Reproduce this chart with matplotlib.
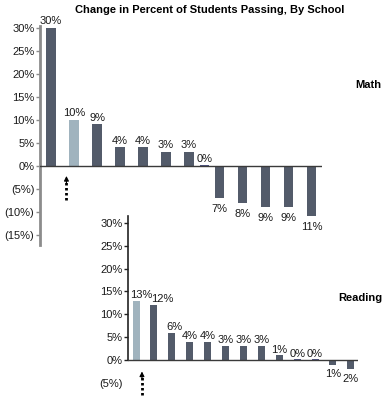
import matplotlib.pyplot as plt
import numpy as np

plt.rcParams['font.family'] = ['Liberation Sans', 'DejaVu Sans']

title = 'Change in Percent of Students Passing, By School'

# values
math_vals = [30, 10, 9, 4, 4, 3, 3, 0, -7, -8, -9, -9, -11]
reading_vals = [13, 12, 6, 4, 4, 3, 3, 3, 1, 0, 0, -1, -2]
math_hl = 1
reading_hl = 0

math_ticks = [-15, -10, -5, 0, 5, 10, 15, 20, 25, 30]
reading_ticks = [-5, 0, 5, 10, 15, 20, 25, 30]

dark = '#535b6a'
light = '#a0b3be'
navy = '#2e3370'

W, H = 388, 400
fig = plt.figure(figsize=(W / 100, H / 100), dpi=100)


def add_ax(l, t, r, b):
    ax = fig.add_axes([l / W, 1 - b / H, (r - l) / W, (b - t) / H])
    ax.patch.set_alpha(0)
    return ax


def pct(v):
    return f'{v}%' if v >= 0 else f'({-v}%)'


def draw_bars(ax, pos, vals, hl, width, gap_up, gap_down, nudge=None):
    nudge = nudge or {}
    cols = [light if i == hl else dark for i in range(len(vals))]
    edges = [navy if v == 0 else 'none' for v in vals]
    ax.bar(pos, vals, width=width, color=cols, edgecolor=edges, linewidth=1.2, zorder=2)
    ax.axhline(0, color='#3a3a3a', lw=1, zorder=3)
    for i, (p, v) in enumerate(zip(pos, vals)):
        x = p + nudge.get(i, 0)
        if v >= 0:
            ax.text(x, v + gap_up, f'{v}%', ha='center', va='bottom', fontsize=8, color='#1a1a1a')
        else:
            ax.text(x, v - gap_down, f'{-v}%', ha='center', va='top', fontsize=8, color='#1a1a1a')


def dotted_arrow(ax, x, y0, y1):
    ax.plot([x, x], [y0, y1 - 0.9], color='black', lw=2, linestyle=(0, (0.9, 0.9)),
            solid_capstyle='butt', dash_capstyle='butt', clip_on=False, zorder=4)
    ax.annotate('', xy=(x, y1), xytext=(x, y1 - 1.6),
                arrowprops=dict(arrowstyle='-|>', lw=0.8, color='black',
                                mutation_scale=7, shrinkA=0, shrinkB=0),
                annotation_clip=False)


# ---- Math
ax1 = add_ax(40, 26, 322, 245)
ax1.set_xlim(-0.48, 11.78)
ax1.set_ylim(-17.2, 30.4)
pos1 = np.arange(len(math_vals), dtype=float)
pos1[7] -= 0.33
pos1[8:] -= 0.67
draw_bars(ax1, pos1, math_vals, math_hl, 0.42, 0.4, 1.3)
for s in ['top', 'right', 'bottom']:
    ax1.spines[s].set_visible(False)
ax1.spines['left'].set_color('#8c8c8c')
ax1.spines['left'].set_linewidth(2)
ax1.set_xticks([])
ax1.set_yticks(math_ticks)
ax1.set_yticklabels([pct(t) for t in math_ticks])
ax1.tick_params(axis='y', length=3, width=1, color='#8c8c8c', pad=1, labelsize=8, labelcolor='#1a1a1a')
dotted_arrow(ax1, math_hl - 0.33, -7.4, -2.2)

# ---- Reading
ax2 = add_ax(128, 216, 358, 395)
ax2.set_xlim(-0.45, 12.4)
ax2.set_ylim(-7.64, 31.5)
pos2 = np.arange(len(reading_vals), dtype=float)
draw_bars(ax2, pos2, reading_vals, reading_hl, 0.39, 0.2, 1.0, nudge={0: 0.28, 1: 0.47, 2: 0.12})
for s in ['top', 'right', 'bottom']:
    ax2.spines[s].set_visible(False)
ax2.spines['left'].set_color('#222222')
ax2.spines['left'].set_linewidth(1.2)
ax2.spines['left'].set_bounds(0, 31.5)
ax2.set_xticks([])
ax2.set_yticks(reading_ticks)
ax2.set_yticklabels([pct(t) for t in reading_ticks])
ax2.tick_params(axis='y', length=3, width=1, color='#222222', pad=1, labelsize=8, labelcolor='#1a1a1a')
ax2.yaxis.get_major_ticks()[0].tick1line.set_visible(False)
dotted_arrow(ax2, reading_hl + 0.33, -7.6, -2.5)

fig.text(210 / W, 1 - 10 / H, title, ha='center', va='center', fontsize=8, weight='bold')
fig.text(368 / W, 1 - 85 / H, 'Math', ha='center', va='center', fontsize=8, weight='bold')
fig.text(360 / W, 1 - 298 / H, 'Reading', ha='center', va='center', fontsize=8, weight='bold')

fig.savefig('out.png', dpi=100)
